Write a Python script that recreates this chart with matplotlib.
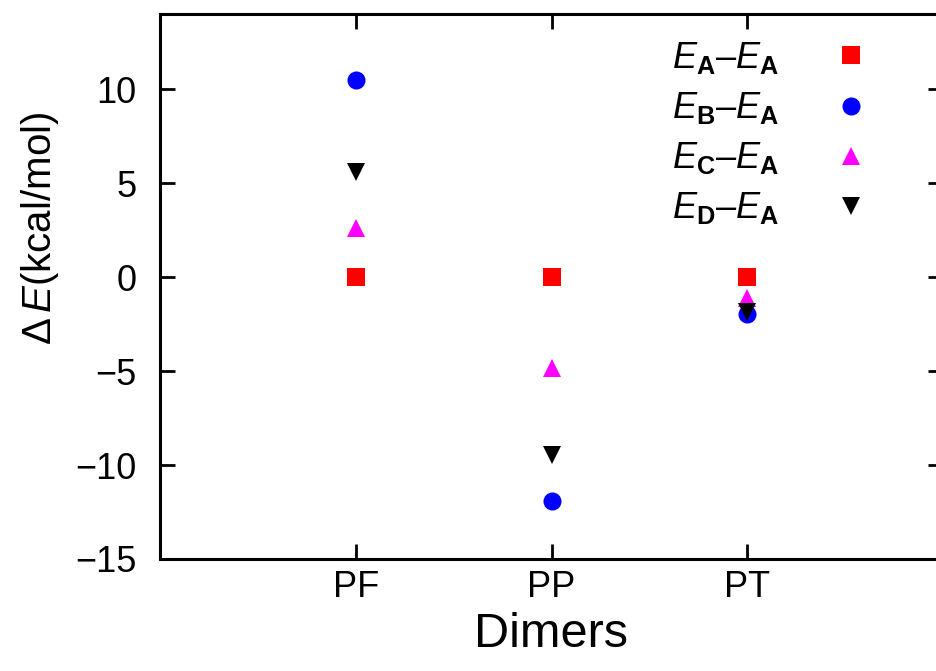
import numpy as np
import matplotlib
matplotlib.use('Agg')
import matplotlib.pyplot as plt

plt.rcParams['font.family'] = ['Liberation Sans', 'DejaVu Sans']
plt.rcParams['mathtext.fontset'] = 'custom'
plt.rcParams['mathtext.rm'] = 'Liberation Sans'
plt.rcParams['mathtext.it'] = 'Liberation Sans:italic'
plt.rcParams['mathtext.bf'] = 'Liberation Sans:bold'

dimers = ['PF', 'PP', 'PT']
ea_ea = [0.0, 0.0, 0.0]
eb_ea = [10.5, -11.9, -1.95]
ec_ea = [2.6, -4.85, -1.1]
ed_ea = [5.6, -9.45, -1.85]

series = [
    (ea_ea, 's', '#ff0000', r'$E_{\mathbf{A}}$–$E_{\mathbf{A}}$'),
    (eb_ea, 'o', '#0000ff', r'$E_{\mathbf{B}}$–$E_{\mathbf{A}}$'),
    (ec_ea, '^', '#ff00ff', r'$E_{\mathbf{C}}$–$E_{\mathbf{A}}$'),
    (ed_ea, 'v', '#000000', r'$E_{\mathbf{D}}$–$E_{\mathbf{A}}$'),
]

fig = plt.figure(figsize=(9.36, 6.71), dpi=100)
ax = fig.add_axes([160/936, 112/671, 783/936, 545/671])

x = np.arange(1, len(dimers) + 1)
for vals, mk, col, lab in series:
    ax.plot(x, vals, linestyle='none', marker=mk, color=col, markersize=13,
            markeredgewidth=0, label=lab)

ax.set_xlim(0, 4)
ax.set_ylim(-15, 14)
ax.set_xticks(x)
ax.set_xticklabels(dimers)
ax.set_yticks([-15, -10, -5, 0, 5, 10])
ax.set_yticklabels(['−15', '−10', '−5', '0', '5', '10'])
ax.tick_params(direction='in', length=11, width=2, labelsize=26,
               top=True, right=True)
ax.tick_params(axis='y', pad=17)
ax.tick_params(axis='x', pad=8)
for sp in ax.spines.values():
    sp.set_linewidth(2.2)

ax.set_xlabel('Dimers', fontsize=35, labelpad=5)
ax.set_ylabel(r'$\Delta\,E$(kcal/mol)', fontsize=29, va='center')
ax.yaxis.set_label_coords(-0.153, 0.607)

ax.legend(loc='upper right', bbox_to_anchor=(887/936, 649/671),
          bbox_transform=fig.transFigure, frameon=False, markerfirst=False,
          fontsize=26, handlelength=1.0, handletextpad=1.5, labelspacing=0.39,
          borderpad=0)

fig.savefig('out.png', dpi=100)
